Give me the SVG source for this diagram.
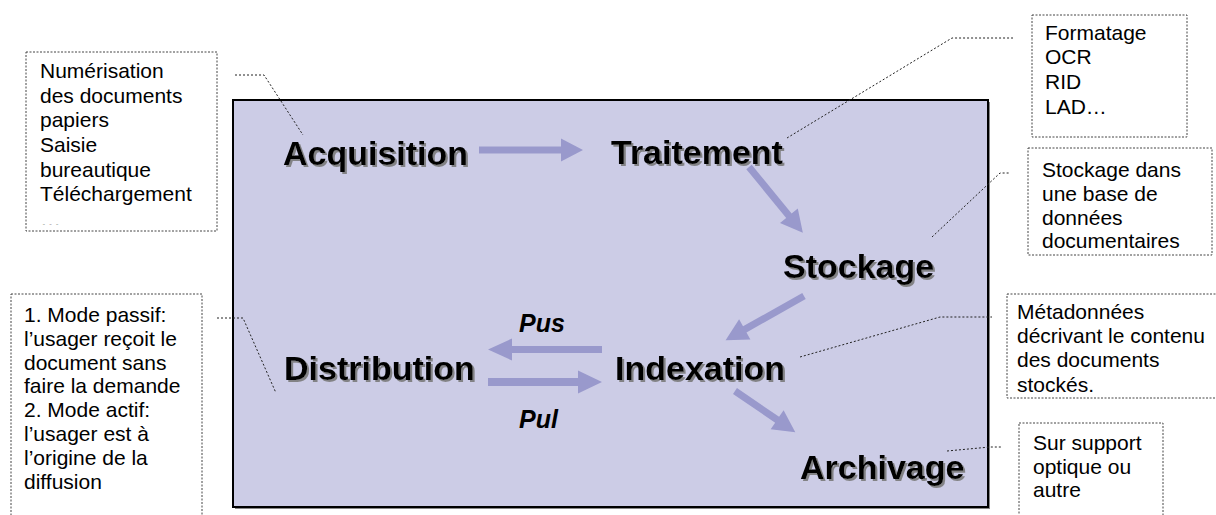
<svg xmlns="http://www.w3.org/2000/svg" width="1216" height="515" viewBox="0 0 1216 515">
<defs>
<style>
.box{fill:#fff;stroke:#444;stroke-width:1;stroke-dasharray:2 1.5}
.note{font-family:"Liberation Sans",Arial,sans-serif;font-size:21px;fill:#000}
.lbl{font-family:"Liberation Sans",Arial,sans-serif;font-size:34px;font-weight:bold;fill:#000}
.ital{font-family:"Liberation Sans",Arial,sans-serif;font-size:25px;font-weight:bold;font-style:italic;fill:#000}
.arr{fill:#9999CC}
.lead{fill:none;stroke:#222;stroke-width:1;stroke-dasharray:2 2}
</style>
<filter id="sh" x="-10%" y="-20%" width="130%" height="150%">
<feDropShadow dx="2" dy="2" stdDeviation="0.7" flood-color="#7a7a7a" flood-opacity="0.9"/>
</filter>
<clipPath id="c1"><rect x="26" y="52" width="191" height="173"/></clipPath>
<clipPath id="c2"><rect x="1007" y="294" width="220" height="98"/></clipPath>
</defs>

<g id="frame">
<rect x="235" y="102" width="755" height="407" fill="#888"/>
<rect x="233" y="100" width="755" height="407" fill="#CCCCE6" stroke="#000" stroke-width="2"/>
</g>

<g id="connectors">
<path class="arr" d="M0,-3.5 H82 V-11.5 L104,0 L82,11.5 V3.5 H0 Z" transform="translate(479,150)"/>
<path class="arr" d="M0,-3.5 H63 V-11.5 L85,0 L63,11.5 V3.5 H0 Z" transform="translate(749,167) rotate(50.7)"/>
<path class="arr" d="M0,-3.5 H68 V-11.5 L90,0 L68,11.5 V3.5 H0 Z" transform="translate(804,296) rotate(150.6)"/>
<path class="arr" d="M0,-3.5 H51 V-11.5 L73,0 L51,11.5 V3.5 H0 Z" transform="translate(735,391) rotate(34.3)"/>
<path class="arr" d="M0,-3.5 H90 V-11 L114,0 L90,11 V3.5 H0 Z" transform="translate(602,349.5) rotate(180)"/>
<path class="arr" d="M0,-4 H90 V-11.5 L114,0 L90,11.5 V4 H0 Z" transform="translate(488,382)"/>
<polyline class="lead" points="235,75 264,75 303,135"/>
<polyline class="lead" points="217,318 243,318 276,393"/>
<polyline class="lead" points="787,138 952,38 1013,38"/>
<polyline class="lead" points="932,237 1000,173 1010,173"/>
<polyline class="lead" points="800,357 940,317 992,317"/>
<polyline class="lead" points="947,451 990,447 1001,447"/>
</g>

<g id="acquisition"><text class="lbl" x="283" y="165" filter="url(#sh)">Acquisition</text></g>
<g id="traitement"><text class="lbl" x="611" y="164" filter="url(#sh)">Traitement</text></g>
<g id="stockage"><text class="lbl" x="783" y="278" filter="url(#sh)">Stockage</text></g>
<g id="indexation"><text class="lbl" x="615" y="380" filter="url(#sh)">Indexation</text></g>
<g id="distribution"><text class="lbl" x="284" y="380" filter="url(#sh)">Distribution</text></g>
<g id="archivage"><text class="lbl" x="800" y="479" filter="url(#sh)">Archivage</text></g>
<g id="pus"><text class="ital" x="519" y="332">Pus</text></g>
<g id="pul"><text class="ital" x="519" y="428">Pul</text></g>

<g id="note-acquisition">
<rect class="box" x="26" y="52" width="191" height="179"/>
<g clip-path="url(#c1)">
<text class="note" x="40" y="78">Numérisation</text>
<text class="note" x="40" y="102.7">des documents</text>
<text class="note" x="40" y="127.4">papiers</text>
<text class="note" x="40" y="152">Saisie</text>
<text class="note" x="40" y="176.7">bureautique</text>
<text class="note" x="40" y="201.4">Téléchargement</text>
<text class="note" x="40" y="226.5">…</text>
</g>
</g>

<g id="note-distribution">
<rect class="box" x="11" y="294" width="191" height="240"/>
<text class="note" x="24" y="322">1. Mode passif:</text>
<text class="note" x="24" y="346">l’usager reçoit le</text>
<text class="note" x="24" y="369.5">document sans</text>
<text class="note" x="24" y="393">faire la demande</text>
<text class="note" x="24" y="417">2. Mode actif:</text>
<text class="note" x="24" y="441">l’usager est à</text>
<text class="note" x="24" y="465">l’origine de la</text>
<text class="note" x="24" y="489">diffusion</text>
</g>

<g id="note-traitement">
<rect class="box" x="1032" y="15" width="155" height="122"/>
<text class="note" x="1045" y="39.5">Formatage</text>
<text class="note" x="1045" y="64">OCR</text>
<text class="note" x="1045" y="89">RID</text>
<text class="note" x="1045" y="113.5">LAD…</text>
</g>

<g id="note-stockage">
<rect class="box" x="1028" y="148" width="184" height="107"/>
<text class="note" x="1042" y="177">Stockage dans</text>
<text class="note" x="1042" y="200.5">une base de</text>
<text class="note" x="1042" y="224.5">données</text>
<text class="note" x="1042" y="248">documentaires</text>
</g>

<g id="note-indexation">
<rect class="box" x="1007" y="294" width="220" height="104"/>
<g clip-path="url(#c2)">
<text class="note" x="1017" y="319">Métadonnées</text>
<text class="note" x="1017" y="343">décrivant le contenu</text>
<text class="note" x="1017" y="367">des documents</text>
<text class="note" x="1017" y="392">stockés.</text>
</g>
</g>

<g id="note-archivage">
<rect class="box" x="1019" y="423" width="144" height="120"/>
<text class="note" x="1033" y="450">Sur support</text>
<text class="note" x="1033" y="473.5">optique ou</text>
<text class="note" x="1033" y="497">autre</text>
</g>
</svg>
